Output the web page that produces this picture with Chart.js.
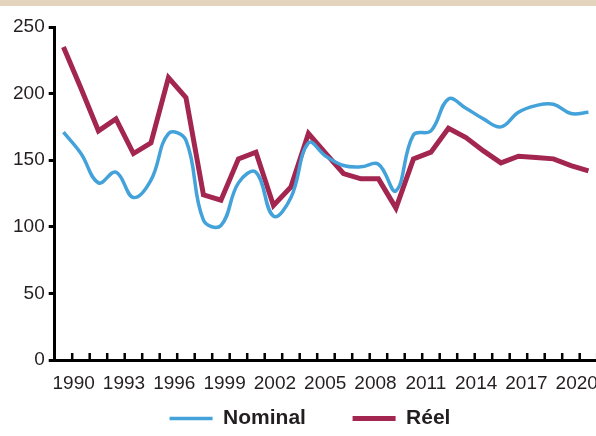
<!DOCTYPE html>
<html lang="fr">
<head>
    <meta charset="UTF-8">
    <title>Nominal / Réel</title>
    <style>
        body {
            margin: 0;
            background: #fff;
            width: 596px;
            height: 436px;
            overflow: hidden;
            position: relative;
        }
        .band {
            position: absolute;
            left: 0;
            top: 0;
            width: 596px;
            height: 6px;
            background: #e4d4be;
            z-index: 2;
        }
        /* a bit wider/taller than the window, so the x axis runs to the edge */
        .chart-box {
            position: absolute;
            left: 0;
            top: 0;
            width: 611px;
            height: 439px;
        }
    </style>
</head>
<body>
    <div class="band"></div>
    <div class="chart-box">
        <canvas id="chart"></canvas>
    </div>
    <script src="https://cdn.jsdelivr.net/npm/chart.js"></script>
    <script>
        const years = ['1990', '1991', '1992', '1993', '1994', '1995', '1996', '1997', '1998', '1999',
            '2000', '2001', '2002', '2003', '2004', '2005', '2006', '2007', '2008', '2009',
            '2010', '2011', '2012', '2013', '2014', '2015', '2016', '2017', '2018', '2019', '2020'];
        const nominal = [171, 155, 133, 141, 122, 135, 170, 165, 105, 101,
            133, 141, 108, 122, 163, 153, 146, 145, 147, 127,
            169, 172, 196, 189, 181, 175, 186, 191, 192, 185, 186];
        const reel = [235, 204, 172, 181, 155, 163, 212, 197, 124, 120,
            151, 156, 116, 130, 170, 155, 140, 136, 136, 114,
            151, 156, 174, 167, 157, 148, 153, 152, 151, 146, 142];
        const shownYears = [1990, 1993, 1996, 1999, 2002, 2005, 2008, 2011, 2014, 2017, 2020];

        const tickFont = { family: "'Liberation Sans', Arial, sans-serif", size: 19 };

        // small tick marks pointing up from the x axis, between the years
        const innerTicks = {
            id: 'innerTicks',
            afterDraw(chart) {
                const xs = chart.scales.x;
                const ctx = chart.ctx;
                const step = xs.getPixelForValue(1) - xs.getPixelForValue(0);
                const bottom = chart.chartArea.bottom;
                ctx.save();
                ctx.strokeStyle = '#000';
                ctx.lineWidth = 2.5;
                ctx.beginPath();
                for (let i = 0; i < years.length; i++) {
                    const x = xs.getPixelForValue(i) + step / 2;
                    ctx.moveTo(x, bottom);
                    ctx.lineTo(x, bottom - 7);
                }
                ctx.stroke();
                ctx.restore();
            }
        };

        new Chart(document.getElementById('chart'), {
            type: 'line',
            data: {
                labels: years,
                datasets: [{
                    label: 'Nominal',
                    data: nominal,
                    borderColor: '#44a2da',
                    backgroundColor: '#44a2da',
                    borderWidth: 3.5,
                    tension: 0.4,
                    pointRadius: 0
                }, {
                    label: 'Réel',
                    data: reel,
                    borderColor: '#a2264f',
                    backgroundColor: '#a2264f',
                    borderWidth: 5,
                    tension: 0,
                    pointRadius: 0
                }]
            },
            options: {
                responsive: true,
                maintainAspectRatio: false,
                animation: false,
                layout: {
                    padding: { top: 27, left: 9, right: 0, bottom: 0 }
                },
                plugins: {
                    tooltip: { enabled: false },
                    legend: {
                        position: 'bottom',
                        labels: {
                            usePointStyle: true,
                            pointStyle: 'line',
                            pointStyleWidth: 43,
                            padding: 0,
                            color: '#231f20',
                            font: { family: "'Liberation Sans', Arial, sans-serif", size: 21, weight: 'bold' },
                            // widen the gap between the two items
                            generateLabels: function (chart) {
                                const items = Chart.defaults.plugins.legend.labels.generateLabels(chart);
                                items[0].text += '\u00a0'.repeat(8);
                                return items;
                            }
                        }
                    }
                },
                scales: {
                    x: {
                        offset: true,
                        weight: 0,
                        grid: { display: false, drawTicks: false },
                        border: { display: true, color: '#000', width: 3 },
                        ticks: { display: false }
                    },
                    // year labels, spaced a little tighter than the data like in the original
                    years: {
                        type: 'linear',
                        position: 'bottom',
                        weight: 1,
                        min: 1988.87,
                        max: 2021.22,
                        grid: { display: false, drawTicks: false },
                        border: { display: false },
                        afterBuildTicks: function (scale) {
                            scale.ticks = shownYears.map(v => ({ value: v }));
                        },
                        ticks: {
                            autoSkip: false,
                            maxRotation: 0,
                            padding: 12.6,
                            color: '#231f20',
                            font: tickFont,
                            callback: value => String(value)
                        }
                    },
                    y: {
                        min: 0,
                        max: 250,
                        grid: {
                            drawOnChartArea: false,
                            drawTicks: true,
                            tickLength: 6,
                            color: '#000',
                            lineWidth: 3
                        },
                        border: { display: true, color: '#000', width: 3 },
                        ticks: {
                            stepSize: 50,
                            padding: 4,
                            color: '#231f20',
                            font: tickFont
                        }
                    }
                }
            },
            plugins: [innerTicks]
        });
    </script>
</body>
</html>
